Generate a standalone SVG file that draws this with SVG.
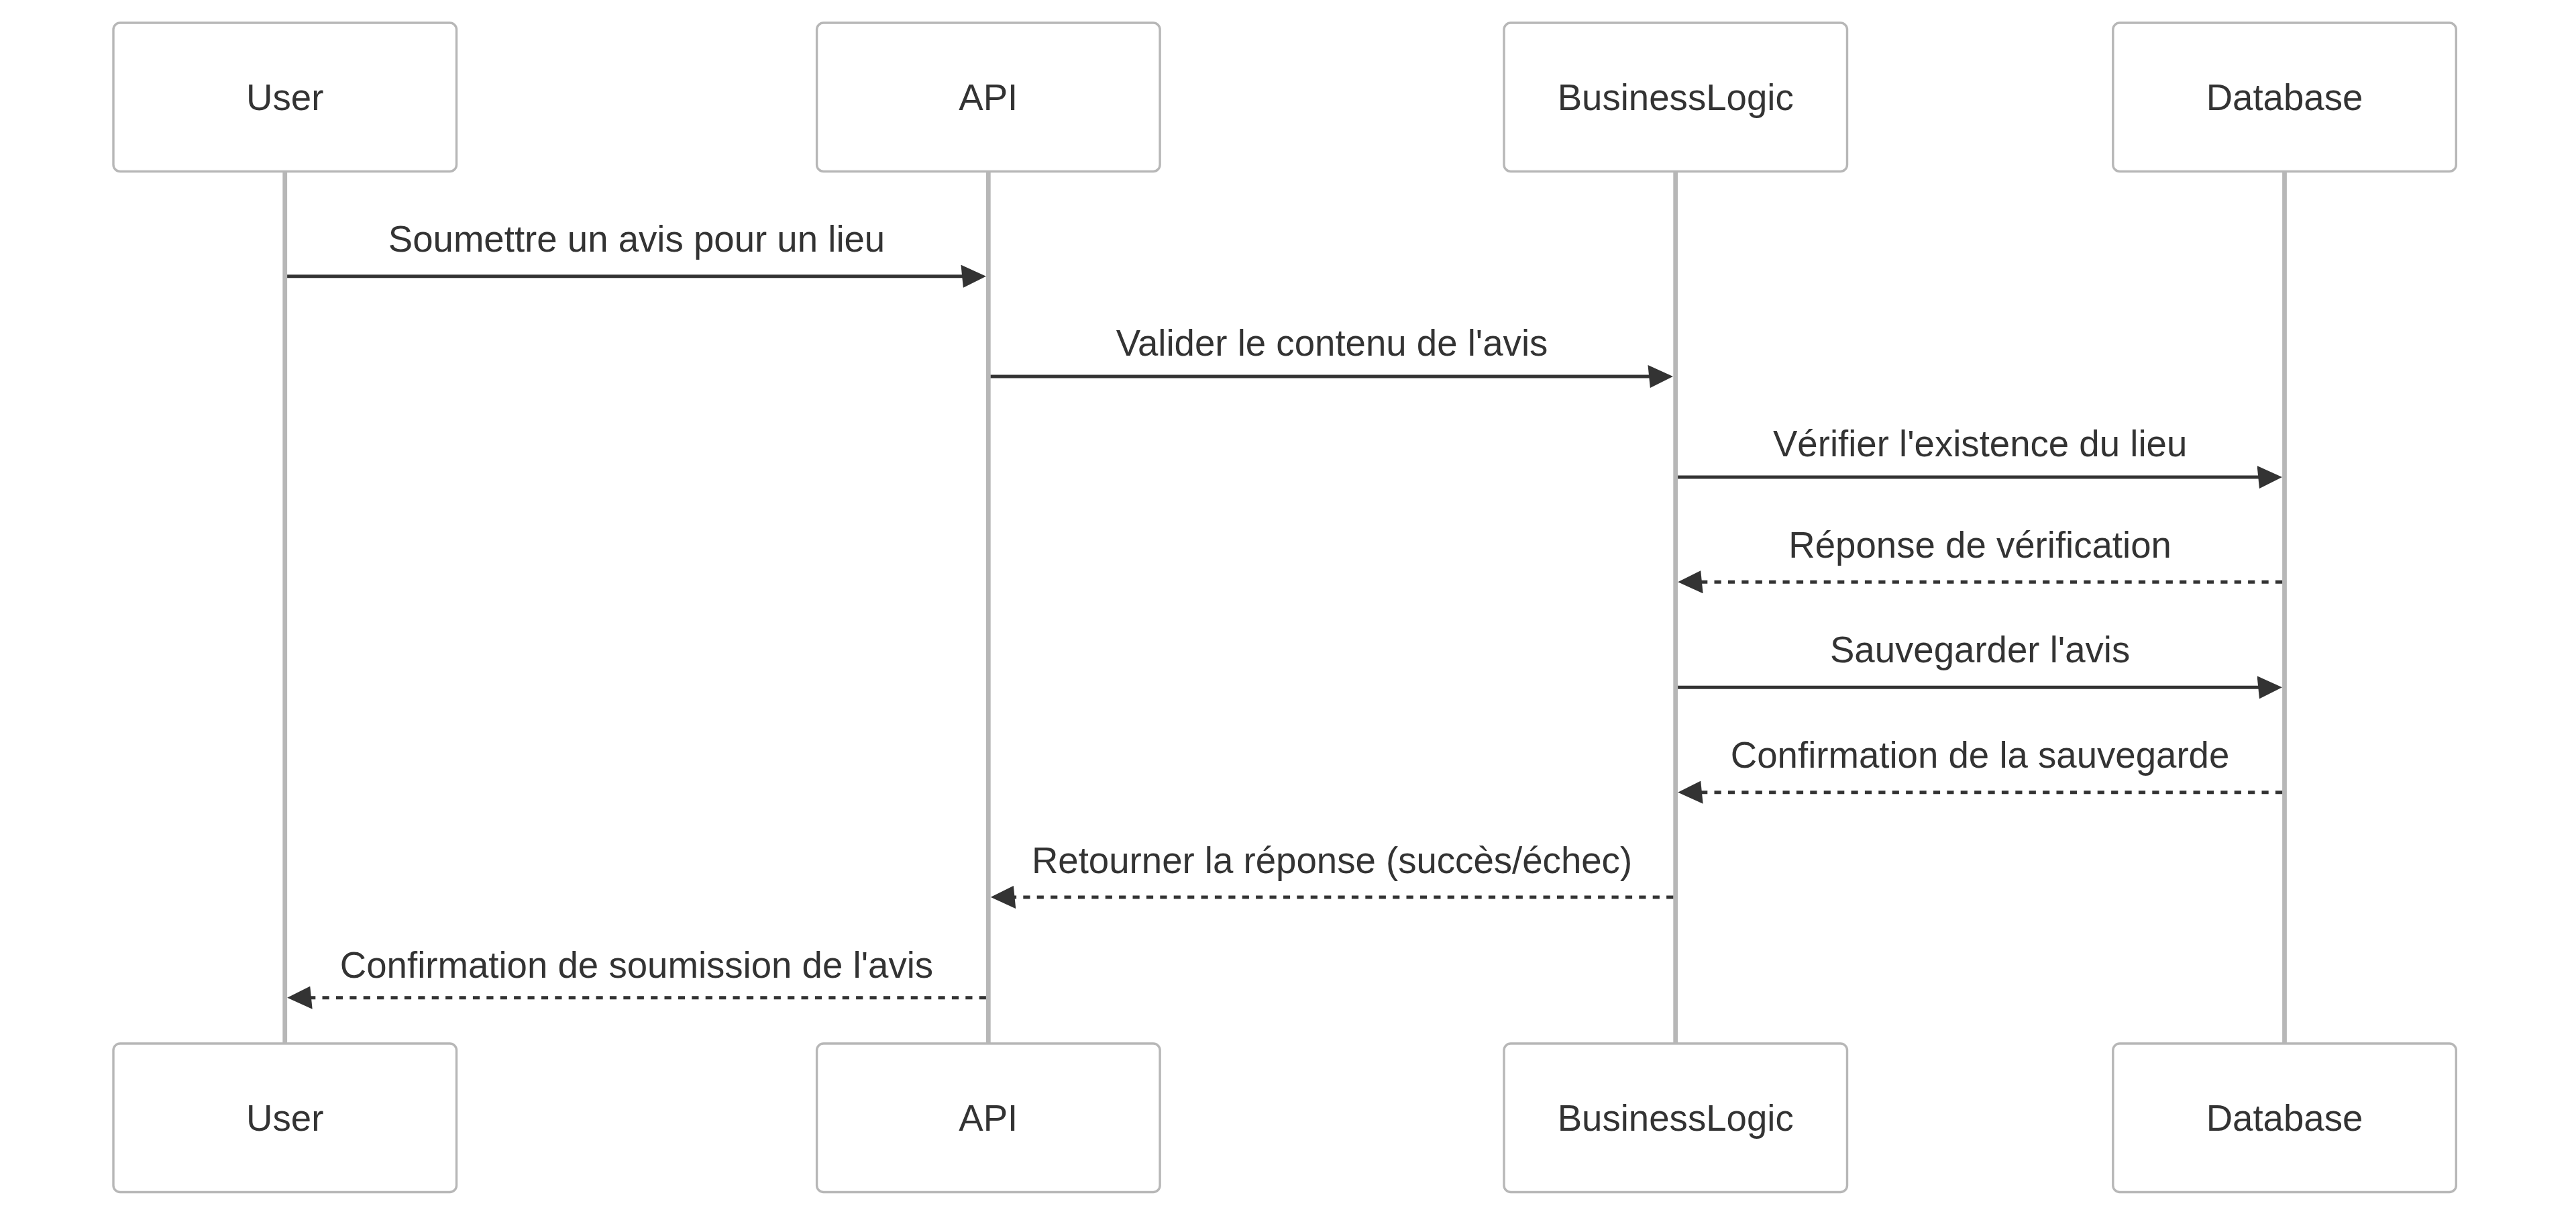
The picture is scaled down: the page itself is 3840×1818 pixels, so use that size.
<svg xmlns="http://www.w3.org/2000/svg" width="3840" height="1818" viewBox="0 0 3840 1818">
  <style>
    .actor { fill: #ffffff; stroke: #b7b7b7; stroke-width: 3.4; }
    .actor-text { font-family: "Liberation Sans", Arial, Helvetica, sans-serif; font-size: 54.6px; fill: #333333; text-anchor: middle; }
    .lifeline { stroke: #b7b7b7; stroke-width: 6.8; fill: none; }
    .msg { stroke: #333333; stroke-width: 5.1; fill: none; marker-end: url(#arrowhead); }
    .dotted { stroke-dasharray: 10.2 10.2; }
    .msg-text { font-family: "Liberation Sans", Arial, Helvetica, sans-serif; font-size: 54.6px; fill: #333333; text-anchor: middle; }
  </style>
  <defs>
    <marker id="arrowhead" viewBox="-1 0 11 10" refX="7.9" refY="5" markerUnits="userSpaceOnUse" markerWidth="37.5" markerHeight="34.1" orient="auto">
      <path d="M -1 0 L 10 5 L 0 10 z" fill="#333333"/>
    </marker>
  </defs>
  <rect x="0" y="0" width="3840" height="1818" fill="#ffffff"/>

  <g id="lifelines">
    <line class="lifeline" x1="424.7" y1="255" x2="424.7" y2="1555"/>
    <line class="lifeline" x1="1473.3" y1="255" x2="1473.3" y2="1555"/>
    <line class="lifeline" x1="2497.7" y1="255" x2="2497.7" y2="1555"/>
    <line class="lifeline" x1="3405.5" y1="255" x2="3405.5" y2="1555"/>
  </g>

  <g id="actor-user-top">
    <rect class="actor" x="169" y="34" width="511.5" height="221.5" rx="10" ry="10"/>
    <text class="actor-text" x="424.7" y="164">User</text>
  </g>
  <g id="actor-api-top">
    <rect class="actor" x="1217.6" y="34" width="511.5" height="221.5" rx="10" ry="10"/>
    <text class="actor-text" x="1473.3" y="164">API</text>
  </g>
  <g id="actor-businesslogic-top">
    <rect class="actor" x="2242" y="34" width="511.5" height="221.5" rx="10" ry="10"/>
    <text class="actor-text" x="2497.7" y="164">BusinessLogic</text>
  </g>
  <g id="actor-database-top">
    <rect class="actor" x="3149.8" y="34" width="511.5" height="221.5" rx="10" ry="10"/>
    <text class="actor-text" x="3405.5" y="164">Database</text>
  </g>

  <g id="actor-user-bottom">
    <rect class="actor" x="169" y="1555" width="511.5" height="221.5" rx="10" ry="10"/>
    <text class="actor-text" x="424.7" y="1685">User</text>
  </g>
  <g id="actor-api-bottom">
    <rect class="actor" x="1217.6" y="1555" width="511.5" height="221.5" rx="10" ry="10"/>
    <text class="actor-text" x="1473.3" y="1685">API</text>
  </g>
  <g id="actor-businesslogic-bottom">
    <rect class="actor" x="2242" y="1555" width="511.5" height="221.5" rx="10" ry="10"/>
    <text class="actor-text" x="2497.7" y="1685">BusinessLogic</text>
  </g>
  <g id="actor-database-bottom">
    <rect class="actor" x="3149.8" y="1555" width="511.5" height="221.5" rx="10" ry="10"/>
    <text class="actor-text" x="3405.5" y="1685">Database</text>
  </g>

  <g id="messages">
    <line class="msg" x1="428.1" y1="411.7" x2="1462.8" y2="411.7"/>
    <line class="msg" x1="1476.7" y1="561" x2="2486.8" y2="561"/>
    <line class="msg" x1="2501.1" y1="711" x2="3394.9" y2="711"/>
    <line class="msg dotted" x1="3402.1" y1="867.3" x2="2508.3" y2="867.3"/>
    <line class="msg" x1="2501.1" y1="1024.3" x2="3394.9" y2="1024.3"/>
    <line class="msg dotted" x1="3402.1" y1="1180.7" x2="2508.3" y2="1180.7"/>
    <line class="msg dotted" x1="2494.3" y1="1337" x2="1483.9" y2="1337"/>
    <line class="msg dotted" x1="1469.9" y1="1486.7" x2="435.3" y2="1486.7"/>
  </g>

  <g id="message-labels">
    <text class="msg-text" x="949" y="375">Soumettre un avis pour un lieu</text>
    <text class="msg-text" x="1985.5" y="530.3">Valider le contenu de l'avis</text>
    <text class="msg-text" x="2951.6" y="680">Vérifier l'existence du lieu</text>
    <text class="msg-text" x="2951.6" y="830.7">Réponse de vérification</text>
    <text class="msg-text" x="2951.6" y="986.7">Sauvegarder l'avis</text>
    <text class="msg-text" x="2951.6" y="1144">Confirmation de la sauvegarde</text>
    <text class="msg-text" x="1985.5" y="1300.6">Retourner la réponse (succès/échec)</text>
    <text class="msg-text" x="949" y="1456.7">Confirmation de soumission de l'avis</text>
  </g>
</svg>
